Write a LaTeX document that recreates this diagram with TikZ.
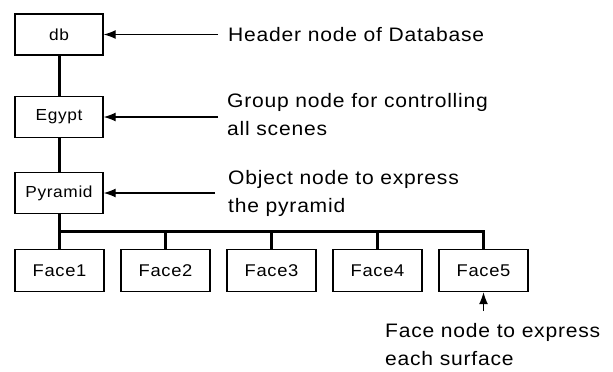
\documentclass[tikz,border=0pt]{standalone}
\usepackage{fontspec}
\setmainfont{Liberation Sans}[FakeStretch=1.08,LetterSpace=4]
\usetikzlibrary{arrows.meta}
\begin{document}
\begin{tikzpicture}[x=1pt,y=-1pt,
  box/.style={draw, line width=1.4pt, minimum width=88pt, minimum height=41pt, inner sep=0pt, font=\fontsize{16}{18}\selectfont},
  facebox/.style={box, minimum width=89pt, minimum height=42pt, font=\fontsize{17}{19}\selectfont},
  tree/.style={line width=3pt, line join=miter},
  lbl/.style={font=\fontsize{19.5}{28}\selectfont, align=left, inner sep=0pt, anchor=base west},
  ptr/.style={line width=1.2pt, -{Latex[length=12pt,width=9pt]}}]
\useasboundingbox (0,0) rectangle (613,372);
\node[box] (db) at (59,34.5) {db};
\node[box] (egypt) at (59,117) {Egypt};
\node[box] (pyr) at (59,193) {Pyramid};
\foreach \i in {1,...,5} {
  \node[facebox] (f\i) at ({59.5+106*(\i-1)},270.5) {Face\i};
}
\coordinate (bus) at (0,231);
\draw[tree] (db.south) -- (egypt.north);
\draw[tree] (egypt.south) -- (pyr.north);
\draw[tree] (pyr.south) -- (pyr.south |- bus) -- (f5.north |- bus) -- (f5.north);
\foreach \i in {1,...,4} {
  \draw[tree] (f\i.north |- bus) -- (f\i.north);
}
\coordinate (pdb) at (218,34.5);
\coordinate (peg) at (218,117);
\coordinate (ppy) at (215,193);
\coordinate (pf5) at (483.5,311);
\draw[ptr] (pdb) -- (db.east);
\draw[ptr] (peg) -- (egypt.east);
\draw[ptr] (ppy) -- (pyr.east);
\draw[ptr] (pf5) -- (f5.south);
\node[lbl] (thdr) at (228,41.7) {Header node of Database};
\node[lbl] (tgrp) at (227,135) {Group node for controlling\\all scenes};
\node[lbl] (tobj) at (228,212) {Object node to express\\the pyramid};
\node[lbl] (tface) at (385,365) {Face node to express\\each surface};
\end{tikzpicture}
\end{document}
